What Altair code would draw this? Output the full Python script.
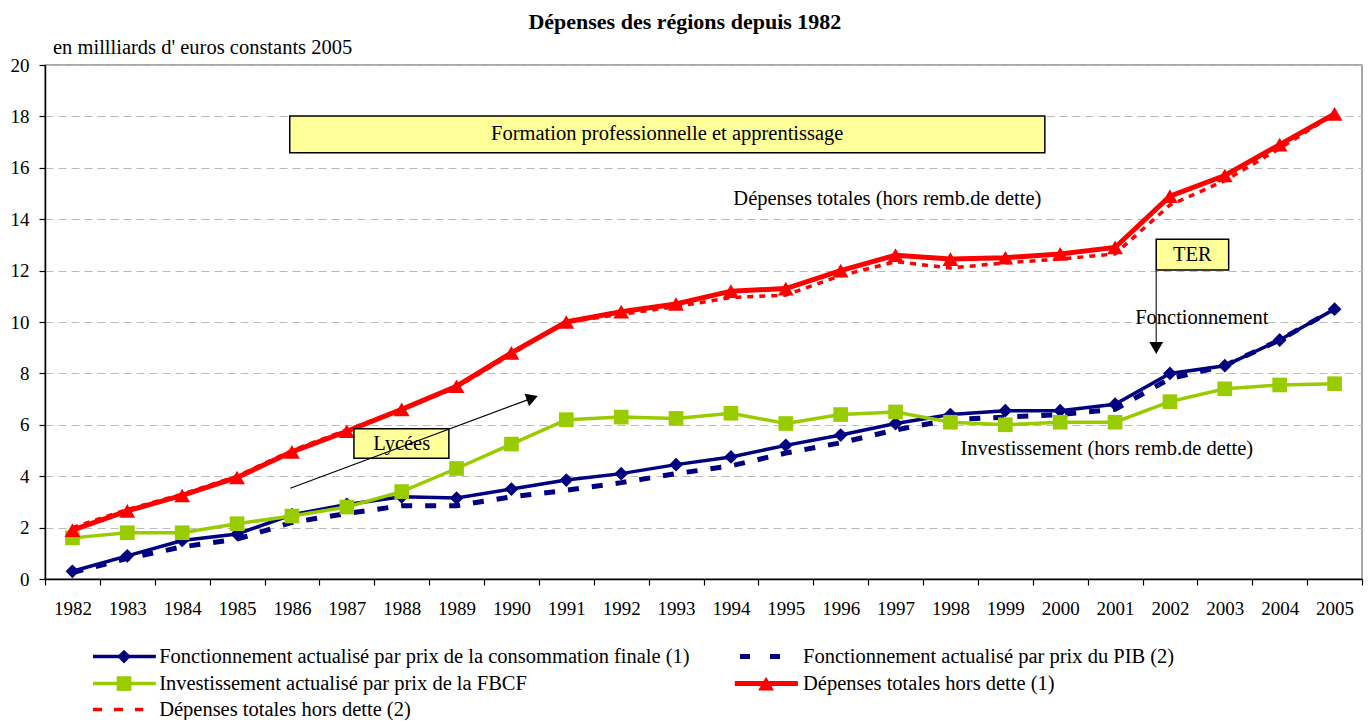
import altair as alt
import pandas as pd

# ---------------- data ----------------
years = list(range(1982, 2006))
fonct_conso = [0.3, 0.9, 1.5, 1.75, 2.5, 2.9, 3.2, 3.15, 3.5, 3.85, 4.1, 4.45,
               4.75, 5.2, 5.6, 6.05, 6.4, 6.55, 6.55, 6.8, 8.0, 8.3, 9.3, 10.5]
fonct_pib = [0.25, 0.8, 1.25, 1.55, 2.2, 2.55, 2.85, 2.85, 3.2, 3.45, 3.75, 4.1,
             4.4, 4.9, 5.3, 5.8, 6.2, 6.3, 6.4, 6.6, 7.8, 8.3, 9.3, 10.5]
invest_fbcf = [1.6, 1.8, 1.8, 2.15, 2.45, 2.8, 3.4, 4.3, 5.25, 6.2, 6.3, 6.25,
               6.45, 6.05, 6.4, 6.5, 6.1, 6.0, 6.1, 6.1, 6.9, 7.4, 7.55, 7.6]
dep_tot_1 = [1.9, 2.65, 3.25, 3.95, 4.95, 5.75, 6.6, 7.5, 8.8, 10.0, 10.4, 10.7,
             11.2, 11.3, 12.0, 12.6, 12.45, 12.5, 12.65, 12.9, 14.9, 15.7, 16.9, 18.1]
dep_tot_2 = [2.0, 2.7, 3.3, 4.0, 5.0, 5.8, 6.6, 7.45, 8.75, 10.0, 10.3, 10.6,
             10.95, 11.05, 11.8, 12.35, 12.1, 12.3, 12.45, 12.65, 14.55, 15.5, 16.75, 18.1]

y_ticks = list(range(0, 21, 2))

title_text = "Dépenses des régions depuis 1982"
unit_text = "en millliards d' euros constants 2005"
legend_labels = [
    "Fonctionnement actualisé par prix de la consommation finale (1)",
    "Fonctionnement actualisé par prix du PIB (2)",
    "Investissement actualisé par prix de la FBCF",
    "Dépenses totales hors dette (1)",
    "Dépenses totales hors dette (2)",
]
box_labels = ["Formation professionnelle et apprentissage", "TER", "Lycées"]
note_labels = ["Dépenses totales (hors remb.de dette)", "Fonctionnement",
               "Investissement (hors remb.de dette)"]

# ---------------- style ----------------
FONT = "Liberation Serif"
FS_AXIS = 19
FS = 20.5
NAVY = "#000080"
GREEN = "#99CC00"
RED = "#FF0000"
BOXFILL = "#FFFF99"
YDOM = [0, 20]
XQ = [1981.5, 2005.5]

df = pd.DataFrame({"year": years, "fc": fonct_conso, "fp": fonct_pib,
                   "inv": invest_fbcf, "d1": dep_tot_1, "d2": dep_tot_2})

yaxis = alt.Axis(values=y_ticks)
xo = alt.X("year:O", title=None,
           scale=alt.Scale(type="band", paddingInner=0, paddingOuter=0),
           axis=alt.Axis(labelAngle=0, tickBand="extent"))


def yq(field):
    return alt.Y(f"{field}:Q", title=None,
                 scale=alt.Scale(domain=YDOM, nice=False, zero=False), axis=yaxis)


def line_layer(field, color, width, dash=None):
    kw = dict(color=color, strokeWidth=width)
    if dash:
        kw["strokeDash"] = dash
    return alt.Chart(df).mark_line(**kw).encode(x=xo, y=yq(field))


def point_layer(field, color, shape, size):
    return alt.Chart(df).mark_point(shape=shape, filled=True, color=color,
                                    size=size, opacity=1).encode(x=xo, y=yq(field))


series = alt.layer(
    line_layer("fc", NAVY, 3.5),
    point_layer("fc", NAVY, "diamond", 190),
    line_layer("fp", NAVY, 5, [11, 13]),
    line_layer("inv", GREEN, 3.5),
    point_layer("inv", GREEN, "square", 215),
    line_layer("d1", RED, 5),
    point_layer("d1", RED, "triangle-up", 250),
    line_layer("d2", RED, 3.5, [6, 6]),
)

# ---------------- annotations (data coordinates) ----------------
def qx():
    return alt.X("x:Q", title=None,
                 scale=alt.Scale(domain=XQ, nice=False, zero=False), axis=None)


def seg(x, x2, y, y2, color, width, dash=None):
    d = pd.DataFrame({"x": [x], "x2": [x2], "y": [y], "y2": [y2]})
    kw = dict(color=color, strokeWidth=width)
    if dash:
        kw["strokeDash"] = dash
    return alt.Chart(d).mark_rule(**kw).encode(x=qx(), x2="x2:Q", y=yq("y"), y2="y2:Q")


def pt(x, y, shape, color, size, angle=0):
    d = pd.DataFrame({"x": [x], "y": [y]})
    return alt.Chart(d).mark_point(shape=shape, filled=True, color=color, size=size,
                                   opacity=1, angle=angle).encode(x=qx(), y=yq("y"))


def txt(s, x, y, align="center", size=FS, weight="normal", baseline="middle"):
    d = pd.DataFrame({"x": [x], "y": [y], "t": [s]})
    return alt.Chart(d).mark_text(font=FONT, fontSize=size, fontWeight=weight,
                                  align=align, baseline=baseline, color="black"
                                  ).encode(x=qx(), y=yq("y"), text="t:N")


def box(x, x2, y, y2):
    d = pd.DataFrame({"x": [x], "x2": [x2], "y": [y], "y2": [y2]})
    return alt.Chart(d).mark_rect(fill=BOXFILL, stroke="black", strokeWidth=1.5
                                  ).encode(x=qx(), x2="x2:Q", y=yq("y"), y2="y2:Q")


annots = [
    # title and unit
    txt(title_text, 1993.16, 21.42, size=22, weight="bold", baseline="alphabetic"),
    txt(unit_text, 1981.646, 20.42, align="left", baseline="alphabetic"),
    # boxes
    box(1985.96, 1999.72, 18.02, 16.59),
    txt(box_labels[0], 1992.84, 17.3),
    box(2001.75, 2003.07, 13.22, 12.02),
    txt(box_labels[1], 2002.41, 12.62),
    box(1987.13, 1988.86, 5.85, 4.70),
    txt(box_labels[2], 1988.0, 5.27),
    # arrows
    seg(2001.75, 2001.75, 12.02, 9.1, "#333333", 1.3),
    pt(2001.75, 8.99, "triangle-down", "black", 190),
    seg(1985.97, 1990.33, 3.53, 7.0, "black", 1.2),
    pt(1990.38, 7.04, "triangle-up", "black", 180, 70),
    # notes
    txt(note_labels[0], 1996.85, 14.79),
    txt(note_labels[1], 2002.58, 10.17),
    txt(note_labels[2], 2000.85, 5.05),
]

# ---------------- legend (below the plot) ----------------
r1, r2, r3 = -3.02, -4.07, -5.08
c1a, c1b, c1m, c1t = 1982.375, 1983.52, 1982.94, 1983.58
c2a, c2b, c2m, c2t = 1994.07, 1995.22, 1994.64, 1995.313
legend = [
    seg(c1a, c1b, r1, r1, NAVY, 3.5),
    pt(c1m, r1, "diamond", NAVY, 190),
    txt(legend_labels[0], c1t, r1, align="left"),
    seg(1994.165, 1994.894, r1, r1, NAVY, 5, [10, 20]),
    txt(legend_labels[1], c2t, r1, align="left"),
    seg(c1a, c1b, r2, r2, GREEN, 3.5),
    pt(c1m, r2, "square", GREEN, 215),
    txt(legend_labels[2], c1t, r2, align="left"),
    seg(c2a, c2b, r2, r2, RED, 5),
    pt(c2m, r2, "triangle-up", RED, 250),
    txt(legend_labels[3], c2t, r2, align="left"),
    seg(c1a, 1983.29, r3, r3, RED, 3.5, [9, 12]),
    txt(legend_labels[4], c1t, r3, align="left"),
]

annot_layer = alt.layer(*annots, *legend)

chart = alt.layer(series, annot_layer).resolve_scale(x="independent").properties(
    width=1317,
    height=514,
    autosize=alt.AutoSizeParams(type="none"),
    padding={"left": 37, "top": 57, "right": 2, "bottom": 141},
    background="white",
).configure_view(
    stroke="#8C8C8C", strokeWidth=1.5
).configure_axis(
    labelFont=FONT, labelFontSize=FS_AXIS, labelColor="black",
    domainColor="black", domainWidth=1.5, tickColor="black", tickWidth=1.2,
    tickSize=6,
).configure_axisX(
    grid=False, labelPadding=23, labelBaseline="middle",
).configure_axisY(
    grid=True, gridDash=[8, 5], gridColor="#BBBBBB", gridWidth=1,
    labelPadding=10,
)

chart.save("out.html", embed_options={"renderer": "svg", "actions": False})
